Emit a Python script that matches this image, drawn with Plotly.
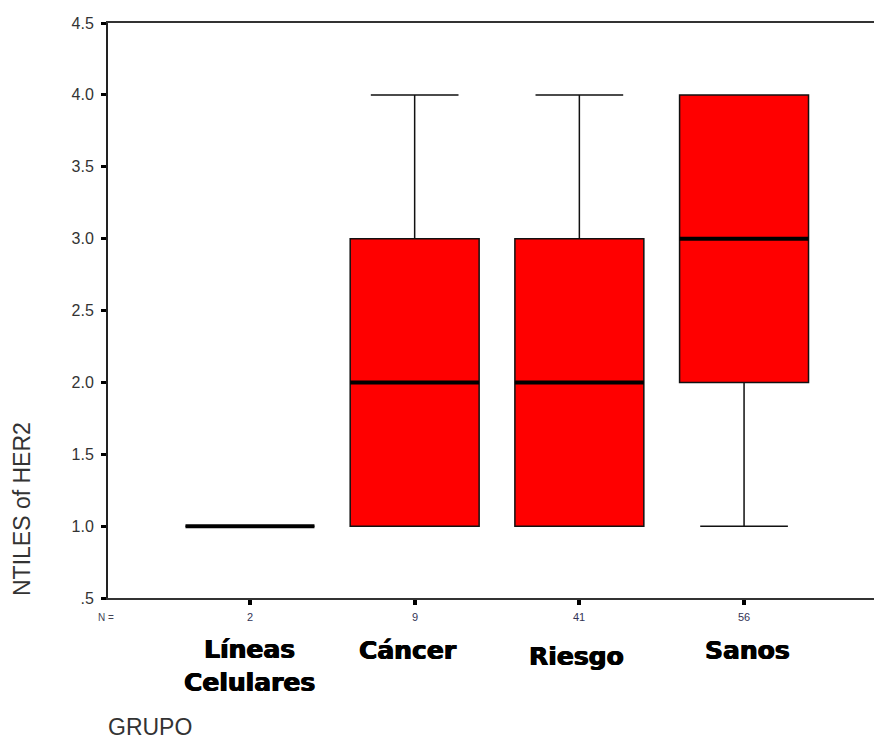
import plotly.graph_objects as go

# Summary statistics of HER2 ntiles per group
groups = ["Líneas<br>Celulares", "Cáncer", "Riesgo", "Sanos"]
counts = [2, 9, 41, 56]
q1 = [1.0, 1.0, 1.0, 2.0]
median = [1.0, 2.0, 2.0, 3.0]
q3 = [1.0, 3.0, 3.0, 4.0]
lower = [1.0, 1.0, 1.0, 1.0]
upper = [1.0, 4.0, 4.0, 4.0]

y_ticks = [0.5, 1.0, 1.5, 2.0, 2.5, 3.0, 3.5, 4.0, 4.5]
y_tick_text = [".5", "1.0", "1.5", "2.0", "2.5", "3.0", "3.5", "4.0", "4.5"]

# vertical offsets (px below the axis) of each group name
name_offsets = [68, 52, 58, 52]

positions = list(range(len(groups)))
BOX_W = 0.783

fig = go.Figure()

fig.add_trace(go.Box(
    x=positions, q1=q1, median=median, q3=q3,
    lowerfence=lower, upperfence=upper,
    width=BOX_W, whiskerwidth=0.68,
    fillcolor="#ff0000",
    line=dict(color="#111111", width=1.5),
    boxpoints=False, hoverinfo="skip", showlegend=False,
))

# heavy median bars drawn over each box
for p, m in zip(positions, median):
    fig.add_trace(go.Scatter(
        x=[p - BOX_W / 2, p + BOX_W / 2], y=[m, m],
        mode="lines", line=dict(color="black", width=4),
        hoverinfo="skip", showlegend=False,
    ))

PLOT_TOP, PLOT_BOTTOM = 23, 598
PLOT_H = PLOT_BOTTOM - PLOT_TOP


def py(px):
    return (PLOT_BOTTOM - px) / PLOT_H


annotations = []
# group sizes under the axis
annotations.append(dict(
    text="N =", x=0, xref="paper", xanchor="right", xshift=8,
    y=py(617), yref="paper", yanchor="middle", showarrow=False,
    font=dict(family="Arial", size=10, color="#444455"),
))
for p, n in zip(positions, counts):
    annotations.append(dict(
        text=str(n), x=p, xref="x", y=py(617), yref="paper",
        yanchor="middle", showarrow=False,
        font=dict(family="Arial", size=11, color="#333355"),
    ))
# group names
name_x = [0.0, -0.04, -0.02, 0.02]
for p, g, off, dx in zip(positions, groups, name_offsets, name_x):
    annotations.append(dict(
        text="<b>" + g + "</b>", x=p + dx, xref="x",
        y=py(PLOT_BOTTOM + off), yref="paper", yanchor="middle",
        showarrow=False, align="center",
        font=dict(family="DejaVu Sans", size=25, color="black",
                  shadow="0.6px 0 0 black, -0.6px 0 0 black"),
    ))
# axis titles
annotations.append(dict(
    text="GRUPO", x=-0.002, xref="paper", xanchor="left",
    y=py(727), yref="paper", yanchor="middle", showarrow=False,
    font=dict(family="Arial", size=23, color="#333333"),
))
annotations.append(dict(
    text="NTILES of HER2", textangle=-90, x=-86 / 766, xref="paper",
    xanchor="center", y=py(509), yref="paper", yanchor="middle",
    showarrow=False, font=dict(family="Arial", size=23, color="#333333"),
))

fig.update_layout(
    width=874, height=742,
    margin=dict(l=108, r=0, t=PLOT_TOP, b=742 - PLOT_BOTTOM),
    paper_bgcolor="white", plot_bgcolor="white",
    annotations=annotations,
    xaxis=dict(
        range=[-0.862, 3.789], tickvals=positions, ticktext=["", "", "", ""],
        showgrid=False, zeroline=False,
        showline=True, linecolor="#333333", linewidth=2, mirror=True,
        ticks="outside", ticklen=5, tickwidth=4, tickcolor="black",
    ),
    yaxis=dict(
        range=[0.5, 4.5], tickvals=y_ticks, ticktext=y_tick_text,
        showgrid=False, zeroline=False,
        showline=True, linecolor="#222222", linewidth=2,
        ticks="outside", ticklen=5, tickwidth=3, tickcolor="black",
        ticklabelstandoff=4,
        tickfont=dict(family="Arial", size=16, color="#333333"),
    ),
)

fig.write_html("out.html")
